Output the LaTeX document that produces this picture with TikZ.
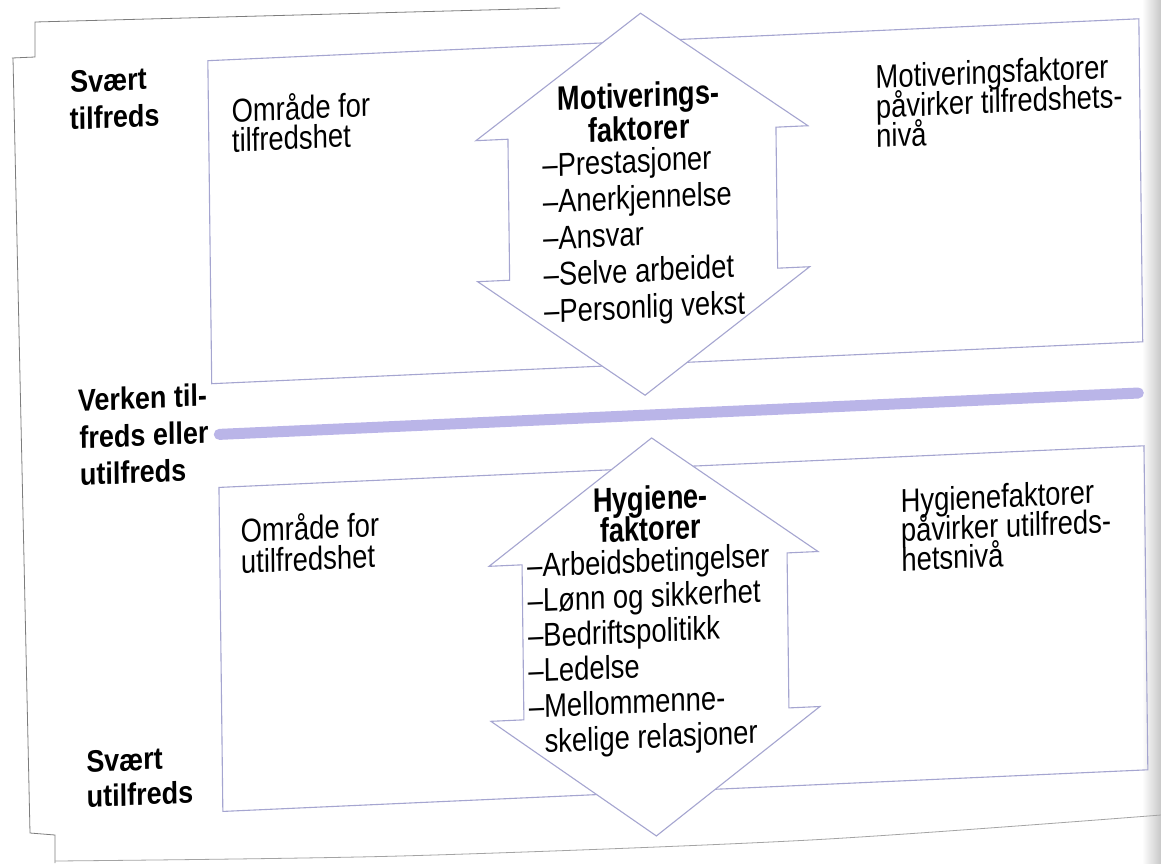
\documentclass[tikz,border=0pt]{standalone}
\usepackage{fontspec}
\newfontfamily\nfont[FakeStretch=0.83]{Liberation Sans}
\newfontfamily\lfont[FakeStretch=0.87]{Liberation Sans}
\newfontfamily\hfont[FakeStretch=0.80]{Liberation Sans}
\definecolor{boxcol}{RGB}{165,165,208}
\definecolor{barcol}{RGB}{186,181,232}
\definecolor{framecol}{RGB}{125,125,125}
\begin{document}
\begin{tikzpicture}[x=1pt,y=-1pt,
  txt/.style={inner sep=0pt, anchor=base west, font=\nfont\fontsize{33}{36}\selectfont},
  lbl/.style={inner sep=0pt, anchor=base west, font=\lfont\bfseries\fontsize{31}{36}\selectfont},
  hdr/.style={inner sep=0pt, anchor=base, font=\hfont\bfseries\fontsize{34}{36}\selectfont},
  boxline/.style={draw=boxcol, line width=1.1pt},
  arrowshape/.style={draw=boxcol, line width=1.1pt, fill=white, line join=miter},
  frameline/.style={draw=framecol, line width=0.8pt},
]
\useasboundingbox (0,0) rectangle (1161,863);
\fill[white] (0,0) rectangle (1161,863);
\shade[left color=white, right color=black!22] (1142,0) rectangle (1161,863);
% page frame
\draw[frameline] (12,58) -- (35,57) -- (35,22) -- (560,8);
\draw[frameline] (13,58) -- (30,833) -- (55,835) -- (55,863);
\draw[frameline, draw=framecol!70] plot[smooth] coordinates {(55,861) (400,856) (810,840) (1161,815)};
\begin{scope}[cm={1,0.045,-0.012,1,(0,0)}, transform shape]
  % boxes
  \draw[boxline] (207,70) rectangle (1138,393);
  \draw[boxline] (213,497) rectangle (1138,821);
  % neutral bar
  \draw[barcol, line width=11pt, line cap=round] (214,444) -- (1133,444);
  % double arrows
  \draw[arrowshape] (640,42) -- (806,162) -- (774,162) -- (774,303) -- (806,303) -- (640,424)
    -- (474,303) -- (506,303) -- (506,162) -- (474,162) -- cycle;
  \draw[arrowshape] (646,467) -- (811,588) -- (780,588) -- (780,743) -- (811,743) -- (646,865)
    -- (482,743) -- (515,743) -- (515,588) -- (482,588) -- cycle;
  % left labels
  \node[lbl] (st1) at (69,96) {Svært};
  \node[lbl] (st2) at (68,133) {tilfreds};
  \node[lbl] (vk1) at (73,415) {Verken til-};
  \node[lbl] (vk2) at (74,452) {freds eller};
  \node[lbl] (vk3) at (74,489) {utilfreds};
  \node[lbl] (su1) at (77,776) {Svært};
  \node[lbl] (su2) at (77,811) {utilfreds};
  % area labels
  \node[txt] (ot1) at (230,133) {Område for};
  \node[txt] (ot2) at (230,162.5) {tilfredshet};
  \node[txt] (ou1) at (234,553) {Område for};
  \node[txt] (ou2) at (234,584) {utilfredshet};
  % right texts
  \node[txt] (mr1) at (874,128) {Motiveringsfaktorer};
  \node[txt] (mr2) at (874,157.5) {påvirker tilfredshets-};
  \node[txt] (mr3) at (874,187) {nivå};
  \node[txt] (hr1) at (894,552.5) {Hygienefaktorer};
  \node[txt] (hr2) at (894,582) {påvirker utilfreds-};
  \node[txt] (hr3) at (894,611.5) {hetsnivå};
  % upper arrow text
  \node[hdr] (mh1) at (637,136) {Motiverings-};
  \node[hdr] (mh2) at (637,169) {faktorer};
  \node[txt] (m1) at (540,201) {–Prestasjoner};
  \node[txt] (m2) at (540,237.5) {–Anerkjennelse};
  \node[txt] (m3) at (540,274) {–Ansvar};
  \node[txt] (m4) at (540,310.5) {–Selve arbeidet};
  \node[txt] (m5) at (540,347) {–Personlig vekst};
  % lower arrow text
  \node[hdr] (hh1) at (644,539) {Hygiene-};
  \node[hdr] (hh2) at (644,569.5) {faktorer};
  \node[txt] (h1) at (520,601) {–Arbeidsbetingelser};
  \node[txt] (h2) at (520,636) {–Lønn og sikkerhet};
  \node[txt] (h3) at (520,671) {–Bedriftspolitikk};
  \node[txt] (h4) at (520,706) {–Ledelse};
  \node[txt] (h5) at (520,741.5) {–Mellommenne-};
  \node[txt] (h6) at (520,777) {\phantom{–}skelige relasjoner};
\end{scope}
\end{tikzpicture}
\end{document}
